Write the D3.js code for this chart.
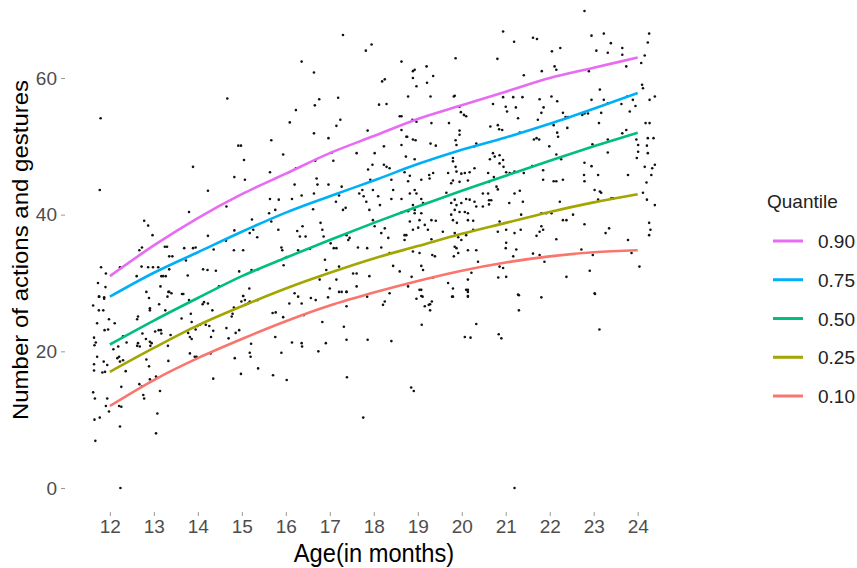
<!DOCTYPE html>
<html>
<head>
<meta charset="utf-8">
<script src="https://cdn.jsdelivr.net/npm/d3@7"></script>
<style>
  body { margin: 0; background: #fff; }
  svg { display: block; font-family: "Liberation Sans", Arial, sans-serif; }
  .tick-label { fill: #4d4d4d; font-size: 19px; }
  .axis-title { fill: #000; }
  .legend-title, .legend-label { fill: #222; font-size: 19px; }
</style>
</head>
<body>
<svg id="chart"></svg>
<script>
// fitted quantile curves, read at each month
const ages = [12, 13, 14, 15, 16, 17, 18, 19, 20, 21, 22, 23, 24];
const q90 = [31, 35.5, 39.5, 43, 46, 49, 51.5, 54, 56, 58, 60, 61.5, 63];
const q75 = [28, 31.5, 34.5, 37.5, 40.3, 42.7, 45, 47.4, 49.5, 51.3, 53.3, 55.5, 57.8];
const q50 = [21, 24.5, 27.8, 31, 33.7, 36.3, 38.8, 41.2, 43.5, 45.7, 47.9, 50, 52];
const q25 = [17, 20.5, 23.8, 26.6, 29.2, 31.5, 33.6, 35.4, 37.2, 38.8, 40.4, 41.8, 43];
const q10 = [12, 15.8, 19, 21.8, 24.4, 26.7, 28.6, 30.3, 31.8, 33, 33.9, 34.5, 34.8];

const quantileLabels = ["0.90", "0.75", "0.50", "0.25", "0.10"];
const quantileSeries = [q90, q75, q50, q25, q10];

const xTicks = [12, 13, 14, 15, 16, 17, 18, 19, 20, 21, 22, 23, 24];
const yTicks = [0, 20, 40, 60];

// children: [age in months, number of actions and gestures]
const observations = [
  [11.62,26.7],[11.75,28.0],[11.87,27.7],[11.75,26.0],[11.85,26.0],[11.71,24.1],[11.98,24.7],[12.11,24.1],
  [11.88,23.1],[11.96,23.2],[11.64,22.0],[11.68,21.3],[11.65,20.9],[11.71,19.2],[11.64,18.1],[11.86,18.5],
  [11.94,18.0],[11.64,17.2],[11.83,16.9],[11.89,17.0],[12.08,20.3],[12.19,20.7],[12.17,19.0],[12.23,18.5],
  [12.30,18.7],[12.21,19.2],[12.30,22.2],[12.38,21.3],[12.36,17.1],[12.26,14.8],[11.62,14.0],[11.66,13.1],
  [11.94,13.1],[11.91,12.0],[11.98,11.2],[12.21,12.0],[12.26,11.9],[11.65,10.0],[11.77,10.3],[12.23,9.0],
  [11.67,6.9],[12.24,0],[13.05,8.0],[13.08,10.9],[13.14,14.2],[13.05,16.3],[12.91,15.9],[12.76,13.6],
  [12.78,13.1],[12.67,15.2],[12.73,14.9],[12.83,18.8],[12.89,17.8],[12.68,20.7],[12.62,20.8],[12.64,21.2],
  [12.91,21.4],[12.95,21.2],[12.92,20.8],[12.82,21.8],[12.74,22.6],[12.64,25.1],[12.62,24.7],[12.91,26.3],
  [12.91,26.0],[12.89,27.8],[12.83,28.7],[13.12,26.9],[13.03,22.9],[13.11,23.1],[13.16,23.1],[13.17,22.6],
  [13.26,26.0],[13.31,28.0],[13.35,28.7],[13.32,20.8],[13.33,18.6],[13.38,22.4],[13.63,24.8],[13.64,28.4],
  [13.80,27.5],[13.78,22.7],[13.84,25.5],[13.86,24.3],[13.82,22.1],[13.82,19.7],[13.93,19.2],[13.97,19.2],
  [13.86,21.8],[13.95,23.2],[13.99,23.7],[14.05,23.9],[14.11,26.9],[14.14,27.2],[14.18,23.9],[14.23,27.0],
  [14.26,23.7],[14.30,22.1],[14.33,26.0],[14.35,23.0],[14.35,16.0],[14.29,19.7],[14.65,23.4],[14.70,21.9],
  [14.77,25.1],[14.79,25.5],[14.82,26.4],[14.86,22.7],[14.94,23.1],[14.84,19.0],[14.98,16.7],[15.03,28.1],
  [14.99,27.3],[15.07,27.5],[15.08,26.8],[15.14,27.0],[15.18,27.3],[15.18,19.8],[15.20,19.2],[15.21,21.1],
  [15.36,27.5],[15.37,17.5],[15.71,16.5],[15.70,25.6],[15.77,25.7],[15.76,22.1],[15.90,19.8],[15.94,25.0],
  [16.02,15.8],[16.08,27.0],[16.14,21.3],[16.20,28.5],[16.28,28.0],[16.36,27.0],[16.36,21.2],[16.37,20.7],
  [16.41,25.3],[16.57,27.8],[16.68,27.5],[16.74,20.0],[16.83,24.3],[16.91,21.2],[16.96,27.9],[17.21,28.7],
  [17.32,23.6],[17.38,28.7],[17.38,26.6],[17.38,21.7],[17.39,16.2],[17.76,10.3],[17.86,21.7],[18.21,26.8],
  [18.25,27.3],[18.97,27.7],[19.08,28.1],[19.08,29.0],[19.16,26.6],[19.25,26.8],[19.28,26.9],[19.32,27.3],
  [19.28,26.0],[19.09,23.9],[18.40,21.5],[18.85,14.7],[18.91,14.2],[19.78,28.0],[20.14,28.7],[20.14,28.0],
  [20.33,24.0],[20.07,22.1],[20.20,22.0],[20.84,22.5],[20.90,21.9],[21.30,28.2],[21.30,26.0],[21.81,27.9],
  [23.03,28.4],[23.13,23.2],[21.20,0],
  [11.79,54.1],[11.77,43.6],[13.89,47.0],[14.67,57.0],[14.92,50.1],[14.98,50.1],[15.05,48.0],[14.83,45.5],
  [15.07,45.1],[15.67,50.9],[15.94,48.8],[15.64,46.2],[16.09,53.5],[16.23,55.3],[16.36,62.4],[16.64,60.8],
  [16.66,56.0],[16.76,56.9],[16.64,51.9],[17.15,53.0],[17.19,57.1],[17.24,53.9],[17.30,66.3],[17.82,64.0],
  [17.95,64.9],[18.19,59.5],[18.25,59.8],[18.12,56.1],[18.29,56.2],[18.63,62.4],[18.63,54.4],[18.63,52.4],
  [16.97,51.2],[17.05,49.1],[17.61,49.0],[17.86,52.3],[18.02,49.0],[18.23,50.0],[18.63,50.2],[18.74,51.4],
  [17.08,47.9],[16.67,47.9],[16.23,46.8],[14.23,43.5],[13.80,40.4],[12.78,39.1],[12.87,38.4],[12.97,37.0],
  [12.67,34.8],[12.73,35.2],[11.80,32.3],[12.23,32.3],[11.91,31.4],[11.73,30.0],[11.90,29.4],[11.76,28.0],
  [11.87,27.9],[12.61,31.0],[12.72,32.4],[12.87,32.3],[12.98,32.3],[13.10,32.3],[13.17,31.0],[13.21,31.0],
  [13.27,31.0],[13.25,35.3],[13.35,33.9],[13.42,33.9],[13.30,35.3],[13.35,32.0],[13.15,29.5],[13.33,28.7],
  [13.40,28.5],[13.67,28.4],[13.69,35.1],[13.73,33.3],[13.77,31.1],[13.89,35.1],[13.95,35.2],[14.12,32.0],
  [14.22,31.9],[14.23,36.9],[14.36,34.9],[14.41,31.8],[14.48,29.5],[14.64,36.2],[14.65,41.2],[14.82,34.8],
  [14.83,37.7],[14.94,31.7],[15.03,34.8],[15.03,28.1],[15.18,37.3],[15.23,39.3],[15.26,37.8],[15.35,36.7],
  [15.22,31.9],[15.17,29.2],[15.37,32.0],[15.62,40.2],[15.64,42.3],[15.67,39.0],[15.76,40.7],[15.84,42.2],
  [15.83,37.8],[15.90,35.2],[15.92,34.8],[15.95,32.6],[16.02,33.8],[16.14,42.3],[16.20,44.4],[16.26,37.6],
  [16.36,42.8],[16.38,38.3],[16.45,36.8],[16.32,36.8],[16.28,34.8],[16.55,35.0],[16.62,40.8],[16.64,43.1],
  [16.70,45.3],[16.72,44.4],[16.79,38.8],[16.83,37.8],[16.86,36.8],[16.89,33.4],[16.92,31.9],[16.97,44.4],
  [17.02,35.8],[17.09,35.1],[17.14,41.9],[17.15,35.1],[17.21,32.4],[17.21,42.8],[17.27,44.1],[17.30,40.7],
  [17.36,41.0],[17.38,37.0],[17.42,36.3],[17.45,36.6],[17.53,31.4],[17.61,31.4],[17.64,35.2],[17.67,43.1],
  [17.74,43.6],[17.77,42.7],[17.83,41.9],[17.87,46.6],[17.97,47.3],[17.92,45.1],[17.98,43.6],[17.90,40.7],
  [17.98,39.2],[18.02,38.3],[18.10,42.7],[18.14,41.4],[18.17,37.3],[18.17,35.2],[18.23,47.3],[18.29,47.0],
  [18.36,46.8],[18.40,45.1],[18.44,43.6],[18.40,42.3],[18.25,38.0],[18.33,36.6],[18.36,34.4],[18.44,32.5],
  [18.59,31.7],[18.63,42.3],[18.63,40.3],[18.70,37.0],[17.61,29.5],[17.90,31.0],[17.85,35.1],[16.77,30.5],
  [17.00,29.2],[17.15,30.5],[17.27,28.7],[17.38,28.7],[17.85,28.0],[18.36,28.5],
  [18.89,61.0],[18.93,61.2],[18.89,60.0],[18.97,58.8],[19.20,61.7],[19.21,59.3],[19.35,60.3],[19.86,62.9],
  [18.78,57.3],[19.29,57.3],[19.82,57.3],[20.81,62.8],[20.94,66.8],[21.19,65.3],[21.62,65.9],[21.71,65.7],
  [22.05,63.9],[22.24,64.4],[22.11,61.7],[22.15,61.2],[21.82,61.0],[21.41,60.4],[22.79,69.8],[22.95,66.2],
  [23.23,66.5],[23.06,64.0],[23.32,63.7],[23.39,65.1],[23.65,64.4],[23.65,63.4],[23.74,61.7],[24.16,63.3],
  [24.23,65.2],[24.26,66.5],[24.08,62.2],[22.89,61.0],[18.59,54.4],[18.88,53.9],[18.97,53.6],[18.76,51.4],
  [18.89,51.0],[18.95,50.9],[19.31,53.4],[19.29,50.4],[19.41,50.1],[19.71,53.4],[19.84,57.4],[19.95,55.8],
  [19.98,55.0],[20.05,54.6],[19.95,52.3],[19.95,51.7],[19.86,50.9],[19.88,50.2],[20.29,50.0],[20.10,54.4],
  [20.65,52.9],[20.82,53.1],[20.85,52.5],[20.92,52.4],[20.71,56.2],[20.94,57.2],[21.00,55.8],[21.03,55.1],
  [21.17,57.2],[21.23,55.7],[21.38,57.2],[21.28,54.1],[21.32,52.0],[21.64,51.0],[21.70,51.2],[21.76,51.0],
  [21.77,56.9],[21.86,55.7],[21.81,54.9],[21.73,53.9],[22.04,57.3],[22.17,56.6],[22.09,53.1],[22.17,52.0],
  [22.19,51.4],[22.30,54.9],[22.36,54.3],[22.42,54.3],[22.40,52.7],[22.74,54.6],[22.79,54.8],[22.87,54.8],
  [22.95,56.8],[23.14,58.3],[23.23,56.8],[23.32,56.3],[23.12,53.4],[23.17,54.9],[23.63,56.2],[23.76,57.3],
  [23.89,56.8],[23.95,55.9],[23.82,55.1],[24.10,59.0],[24.12,58.5],[24.39,57.3],[24.27,56.8],[24.18,53.4],
  [24.27,53.4],[24.23,51.2],[24.36,51.2],[24.21,50.1],[24.01,50.2],[23.97,51.0],[24.01,49.2],[23.98,48.3],
  [24.16,47.0],[24.39,47.3],[24.33,46.8],[24.31,45.8],[24.20,44.7],[23.78,45.8],[23.65,51.9],[23.74,52.4],
  [23.32,51.0],[22.97,50.3],[23.10,45.8],[22.79,47.6],[22.79,44.9],[23.32,49.1],[24.23,49.0],
  [18.73,48.5],[18.93,48.1],[18.70,46.2],[18.82,45.7],[19.26,45.8],[19.27,45.3],[19.35,46.1],[19.80,48.3],
  [19.80,47.8],[19.86,47.0],[19.88,46.3],[19.80,45.0],[19.76,44.6],[19.99,46.0],[20.07,46.1],[20.18,46.2],
  [19.95,44.8],[20.14,45.0],[20.29,46.8],[20.33,50.4],[20.64,48.1],[20.71,49.0],[20.75,48.5],[20.86,48.7],
  [20.86,47.5],[20.94,48.0],[20.95,47.0],[21.01,46.2],[21.09,46.1],[21.20,46.3],[20.60,46.1],[20.73,45.5],
  [20.79,44.1],[20.82,43.7],[20.62,44.8],[20.48,43.1],[20.67,42.1],[21.20,43.1],[21.32,43.5],[21.39,41.9],
  [21.08,41.7],[21.41,46.1],[21.60,47.1],[21.85,46.5],[21.85,45.1],[22.09,44.9],[22.15,44.9],[22.30,45.1],
  [22.26,48.1],[22.15,48.8],[21.99,50.0],[22.78,45.8],[23.02,43.6],[23.14,43.4],[23.17,43.2],[22.95,47.1],
  [23.10,42.2],[23.44,42.4],[22.79,38.6],[23.27,37.3],[23.35,38.0],[23.40,42.4],[23.78,36.3],[24.12,43.2],
  [24.21,42.2],[24.39,41.4],[24.26,38.8],[24.29,37.8],[24.26,37.0],[24.04,32.4],[23.86,34.4],[22.98,34.1],
  [22.91,31.8],[23.02,28.5],[22.38,30.9],[21.88,33.1],[21.77,34.1],[22.72,34.9],[22.53,40.0],[22.30,39.2],
  [22.38,39.2],[22.23,41.9],[22.04,40.2],[21.92,40.2],[21.81,40.2],[21.85,37.8],[21.70,36.9],[21.77,37.5],
  [21.81,38.3],[22.15,36.4],[21.62,34.3],[21.17,33.9],[21.24,34.9],[21.20,37.3],[21.34,37.8],[21.35,40.0],
  [21.01,37.8],[20.86,39.0],[20.82,37.5],[21.01,35.9],[21.00,35.1],[20.86,32.4],[20.94,32.2],[21.01,30.9],
  [20.83,30.8],[21.28,28.3],[20.60,43.1],[20.62,42.1],[20.62,41.5],[20.48,41.2],[20.33,41.2],[20.29,41.9],
  [20.26,37.8],[20.33,34.8],[20.37,33.1],[20.22,31.5],[20.14,30.5],[20.14,29.0],[20.14,28.1],[19.84,42.2],
  [19.76,41.7],[19.88,41.4],[19.99,41.7],[20.10,42.3],[20.18,42.2],[19.84,40.7],[19.95,40.4],[20.07,40.4],
  [20.14,40.2],[19.76,40.0],[19.80,39.2],[19.89,38.8],[20.14,39.2],[20.26,39.1],[19.84,37.3],[19.92,36.7],
  [19.99,36.3],[20.10,37.0],[19.84,35.3],[19.88,35.1],[19.92,34.4],[19.82,33.9],[20.14,34.8],[19.69,30.0],
  [19.80,29.2],[19.80,28.0],[20.10,29.0],[18.82,43.1],[18.93,43.6],[18.97,43.1],[19.08,42.3],[19.12,41.7],
  [18.89,41.4],[18.78,40.5],[18.93,40.7],[19.08,40.2],[18.93,40.2],[18.82,39.0],[19.04,39.2],[18.74,37.0],
  [18.70,36.3],[18.89,37.8],[19.01,38.1],[19.31,39.2],[19.41,39.1],[19.23,37.8],[19.16,38.5],[19.31,36.4],
  [19.33,34.1],[19.39,33.9],[19.57,37.5],[18.89,34.6],[19.04,34.4],[19.08,32.5],[19.12,31.9],[18.86,30.9],
  [18.78,29.5],[19.04,29.0],[19.11,28.0],[19.35,30.8],[18.78,44.9],[19.08,45.1],[19.65,43.2],[19.69,46.1]
];

const width = 857, height = 568;
// panel box (ggplot-like panel without border)
const mg = { top: 0, right: 174, bottom: 56, left: 65 };
const W = width - mg.left - mg.right;
const H = height - mg.top - mg.bottom;

const colors = {
  "0.90": "#E76BF3",
  "0.75": "#00B0F6",
  "0.50": "#00BF7D",
  "0.25": "#A3A500",
  "0.10": "#F8766D"
};

const svg = d3.select("#chart").attr("width", width).attr("height", height);

const x = d3.scaleLinear().domain([10.98, 25.03]).range([mg.left, mg.left + W]);
const y = d3.scaleLinear().domain([0, 60]).range([488, 78]);

// axes: ticks and labels only, no axis line
const xAxis = svg.append("g")
  .attr("transform", `translate(0,${mg.top + H})`)
  .call(d3.axisBottom(x).tickValues(xTicks).tickSize(4).tickPadding(3).tickFormat(d3.format("d")));
xAxis.select(".domain").remove();
xAxis.selectAll(".tick line").attr("stroke", "#999");
xAxis.selectAll(".tick text").attr("class", "tick-label").attr("font-family", null).attr("font-size", null).attr("dy", "0.76em");

const yAxis = svg.append("g")
  .attr("transform", `translate(${mg.left},0)`)
  .call(d3.axisLeft(y).tickValues(yTicks).tickSize(4).tickPadding(4).tickFormat(d3.format("d")));
yAxis.select(".domain").remove();
yAxis.selectAll(".tick line").attr("stroke", "#999");
yAxis.selectAll(".tick text").attr("class", "tick-label").attr("font-family", null).attr("font-size", null);

// scatter
svg.append("g").selectAll("circle")
  .data(observations)
  .join("circle")
  .attr("cx", d => x(d[0]))
  .attr("cy", d => y(d[1]))
  .attr("r", 1.3)
  .attr("fill", "#111");

// quantile curves
const line = d3.line()
  .x((d, i) => x(ages[i]))
  .y(d => y(d))
  .curve(d3.curveMonotoneX);

quantileSeries.forEach((s, k) => {
  svg.append("path")
    .attr("d", line(s))
    .attr("fill", "none")
    .attr("stroke", colors[quantileLabels[k]])
    .attr("stroke-width", 2.6);
});

// titles (the source image is slightly squeezed horizontally)
svg.append("text").attr("class", "axis-title")
  .attr("font-size", 26)
  .attr("transform", "translate(374,562) scale(0.91,1)")
  .attr("text-anchor", "middle")
  .text("Age(in months)");

svg.append("text").attr("class", "axis-title")
  .attr("font-size", 24)
  .attr("transform", "translate(28,250) rotate(-90) scale(1,0.9)")
  .attr("text-anchor", "middle")
  .text("Number of actions and gestures");

// legend
const lg = svg.append("g").attr("transform", "translate(767,0)");
lg.append("text").attr("class", "legend-title").attr("x", 0).attr("y", 208).text("Quantile");

const ly = d3.scalePoint().domain(quantileLabels).range([241, 396]);
quantileLabels.forEach(q => {
  lg.append("line")
    .attr("x1", 6).attr("x2", 36)
    .attr("y1", ly(q)).attr("y2", ly(q))
    .attr("stroke", colors[q]).attr("stroke-width", 3);
  lg.append("text").attr("class", "legend-label")
    .attr("x", 51).attr("y", ly(q) + 7)
    .text(q);
});
</script>
</body>
</html>
